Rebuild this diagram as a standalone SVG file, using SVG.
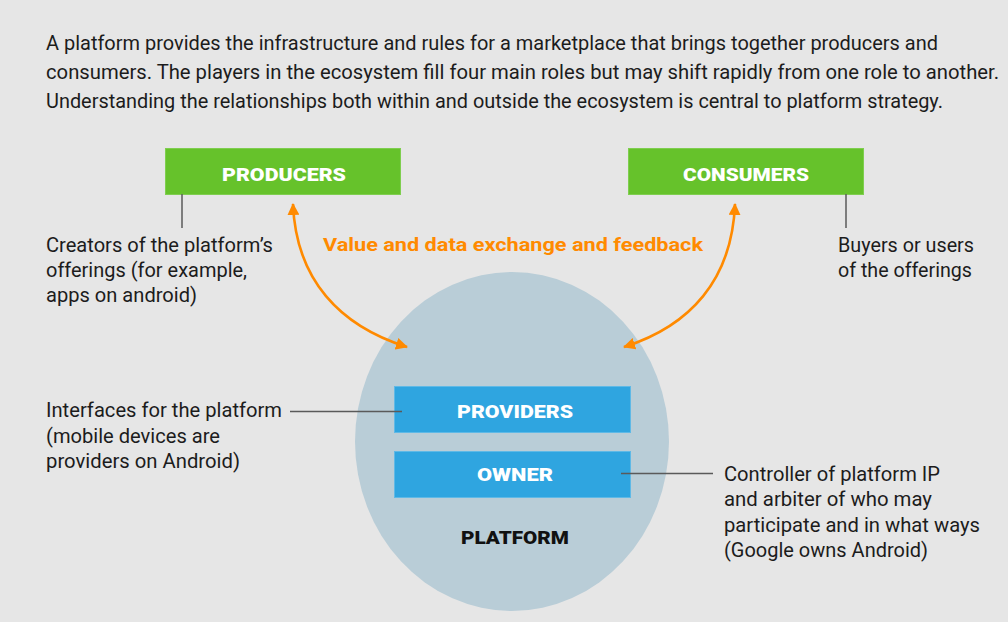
<svg xmlns="http://www.w3.org/2000/svg" width="1008" height="622" viewBox="0 0 1008 622">
<defs>
<style>
.body{font-family:Roboto,"Liberation Sans",sans-serif;font-size:19.5px;fill:#1c1c1c}
.head{font-family:Roboto,"Liberation Sans",sans-serif;font-size:20.5px;fill:#1c1c1c}
.cap{font-family:Roboto,"Liberation Sans",sans-serif;font-weight:900;font-size:19px;fill:#ffffff}
.green{fill:#66c22b;stroke:#7fce4f;stroke-width:1}
.blue{fill:#2fa5e0;stroke:#5fb9e6;stroke-width:1}
.lead{stroke:#5a5a5a;stroke-width:1.5;fill:none}
.arc{stroke:#ff8a00;stroke-width:2.6;fill:none}
</style>
<marker id="ah" viewBox="0 0 12 12" refX="11" refY="6" markerWidth="12" markerHeight="12" markerUnits="userSpaceOnUse" orient="auto-start-reverse">
<path d="M0,0 L12,6 L0,12 Z" fill="#ff8a00"/>
</marker>
</defs>
<rect x="0" y="0" width="1008" height="622" fill="#e6e6e6"/>
<g id="intro">
<text class="head" x="46" y="50" textLength="892" lengthAdjust="spacingAndGlyphs">A platform provides the infrastructure and rules for a marketplace that brings together producers and</text>
<text class="head" x="46" y="79" textLength="953" lengthAdjust="spacingAndGlyphs">consumers. The players in the ecosystem fill four main roles but may shift rapidly from one role to another.</text>
<text class="head" x="46" y="108" textLength="897" lengthAdjust="spacingAndGlyphs">Understanding the relationships both within and outside the ecosystem is central to platform strategy.</text>
</g>
<g id="platform">
<ellipse cx="512" cy="441.5" rx="157" ry="169.5" fill="#b9cdd7"/>
<text x="515" y="544" text-anchor="middle" style="font-family:Roboto,'Liberation Sans',sans-serif;font-weight:900;font-size:19px;fill:#111" textLength="108" lengthAdjust="spacingAndGlyphs">PLATFORM</text>
</g>
<g id="producers">
<rect class="green" x="165.5" y="148.5" width="235" height="46"/>
<text class="cap" x="284" y="181" text-anchor="middle" textLength="124" lengthAdjust="spacingAndGlyphs">PRODUCERS</text>
</g>
<g id="consumers">
<rect class="green" x="628.5" y="148.5" width="235" height="46"/>
<text class="cap" x="746" y="181" text-anchor="middle" textLength="126" lengthAdjust="spacingAndGlyphs">CONSUMERS</text>
</g>
<g id="providers">
<rect class="blue" x="394.5" y="386.5" width="236" height="46"/>
<text class="cap" x="515" y="418" text-anchor="middle" textLength="116" lengthAdjust="spacingAndGlyphs">PROVIDERS</text>
</g>
<g id="owner">
<rect class="blue" x="394.5" y="451.5" width="236" height="46"/>
<text class="cap" x="515" y="481" text-anchor="middle" textLength="76" lengthAdjust="spacingAndGlyphs">OWNER</text>
</g>
<g id="producers-note">
<text class="body" x="46" y="252" textLength="227" lengthAdjust="spacingAndGlyphs">Creators of the platform’s</text>
<text class="body" x="46" y="277" textLength="201" lengthAdjust="spacingAndGlyphs">offerings (for example,</text>
<text class="body" x="46" y="302" textLength="151" lengthAdjust="spacingAndGlyphs">apps on android)</text>
</g>
<g id="consumers-note">
<text class="body" x="838" y="252" textLength="136" lengthAdjust="spacingAndGlyphs">Buyers or users</text>
<text class="body" x="838" y="277" textLength="134" lengthAdjust="spacingAndGlyphs">of the offerings</text>
</g>
<g id="providers-note">
<text class="body" x="46" y="417" textLength="236" lengthAdjust="spacingAndGlyphs">Interfaces for the platform</text>
<text class="body" x="46" y="443" textLength="174" lengthAdjust="spacingAndGlyphs">(mobile devices are</text>
<text class="body" x="46" y="468" textLength="194" lengthAdjust="spacingAndGlyphs">providers on Android)</text>
</g>
<g id="owner-note">
<text class="body" x="724" y="481" textLength="216" lengthAdjust="spacingAndGlyphs">Controller of platform IP</text>
<text class="body" x="724" y="506" textLength="208" lengthAdjust="spacingAndGlyphs">and arbiter of who may</text>
<text class="body" x="724" y="532" textLength="256" lengthAdjust="spacingAndGlyphs">participate and in what ways</text>
<text class="body" x="724" y="557" textLength="204" lengthAdjust="spacingAndGlyphs">(Google owns Android)</text>
</g>
<g id="exchange-label">
<text x="323" y="251" style="font-family:Roboto,'Liberation Sans',sans-serif;font-weight:700;font-size:19px;fill:#ff8a00" textLength="380" lengthAdjust="spacingAndGlyphs">Value and data exchange and feedback</text>
</g>
<g id="connectors">
<line class="lead" x1="182" y1="194" x2="182" y2="228"/>
<line class="lead" x1="846" y1="194" x2="846" y2="228"/>
<line class="lead" x1="290" y1="411.5" x2="402" y2="411.5"/>
<line class="lead" x1="621" y1="473.5" x2="713" y2="473.5"/>
<path class="arc" d="M293,204 C296,280 340,326 407,347" marker-start="url(#ah)" marker-end="url(#ah)"/>
<path class="arc" d="M735,204 C732,280 690,326 624,347" marker-start="url(#ah)" marker-end="url(#ah)"/>
</g>
</svg>
